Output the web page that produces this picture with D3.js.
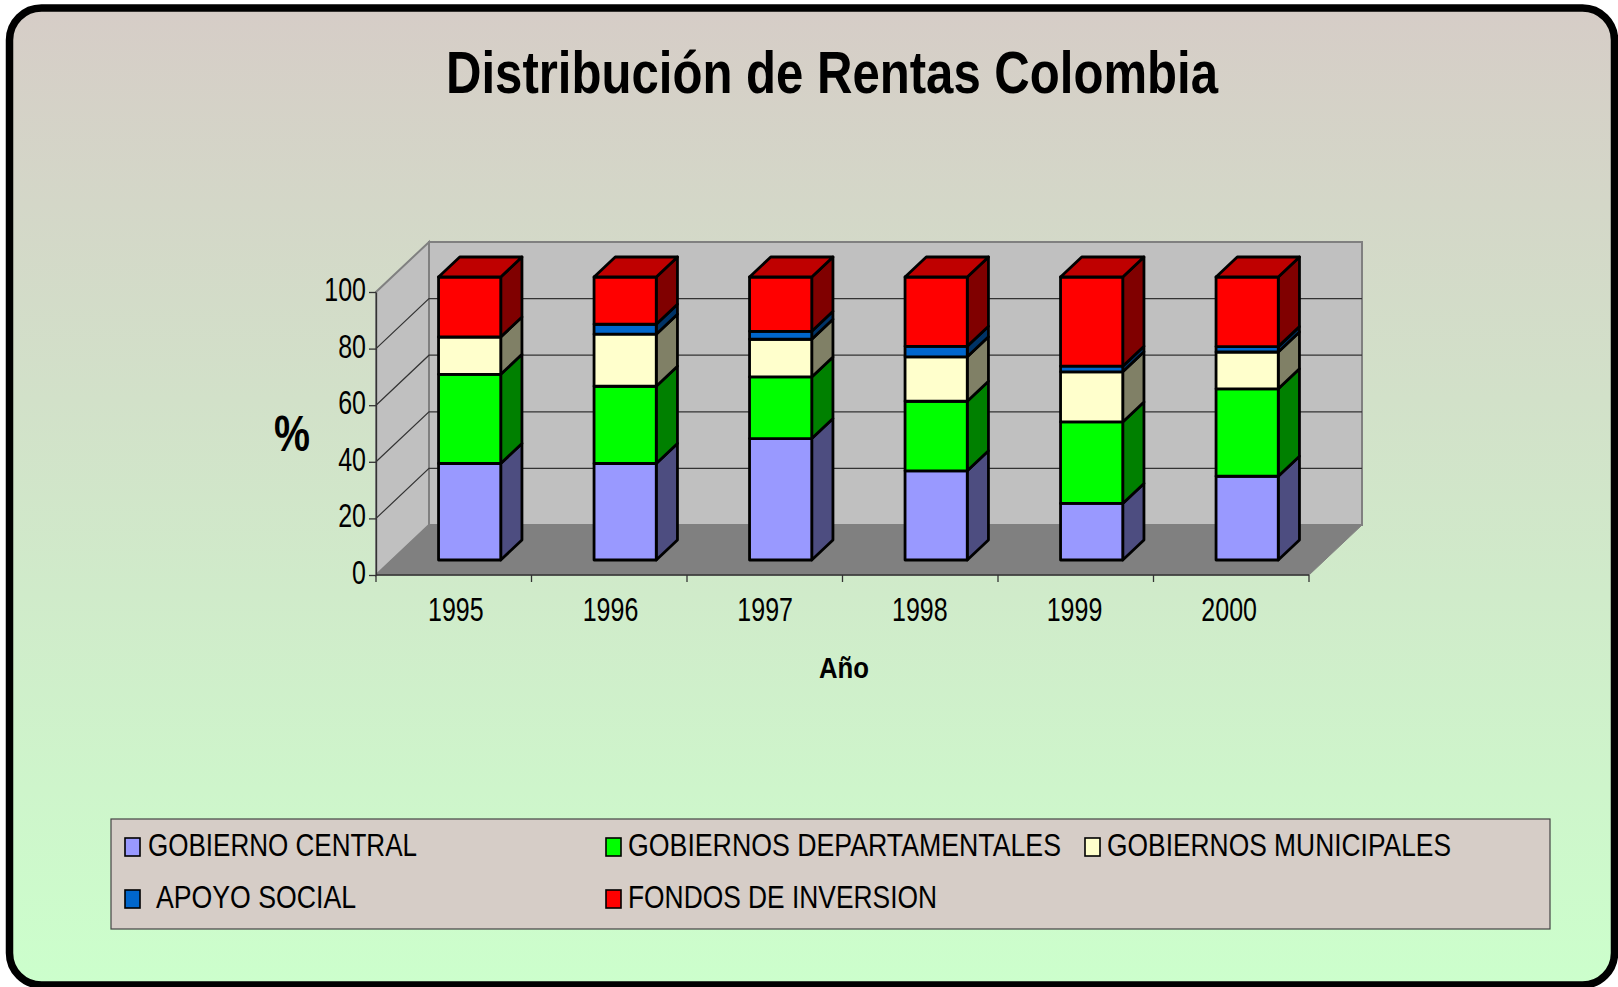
<!DOCTYPE html>
<html>
<head>
	<meta charset="utf-8">
	<title>Distribución de Rentas Colombia</title>
	<script src="https://d3js.org/d3.v7.min.js"></script>
	<style>
		html, body { margin: 0; padding: 0; background: #fff; }
		svg { display: block; }
		text { font-family: "Liberation Sans Narrow", "Arial Narrow", "Liberation Sans", sans-serif; fill: #000; }
	</style>
</head>
<body>
	<svg width="1618" height="987"></svg>
	<script>
		var years = ['1995', '1996', '1997', '1998', '1999', '2000'];
		var yTicks = [0, 20, 40, 60, 80, 100];
		var seriesNames = ['GOBIERNO CENTRAL', 'GOBIERNOS DEPARTAMENTALES', 'GOBIERNOS MUNICIPALES', ' APOYO SOCIAL', 'FONDOS DE INVERSION'];

		// percent per year
		var central = [34.1, 34.1, 42.9, 31.5, 20.0, 29.6];
		var departamentales = [31.5, 27.3, 21.8, 24.6, 28.8, 30.9];
		var municipales = [13.2, 18.4, 13.3, 15.7, 17.7, 13.0];
		var apoyo = [0, 3.5, 2.8, 3.7, 2.0, 1.9];
		var fondos = [21.2, 16.7, 19.2, 24.5, 31.5, 24.6];

		var frontColors = ['#9999ff', '#00ff00', '#ffffcc', '#0066cc', '#ff0000'];
		var sideColors = ['#4d4d80', '#008000', '#808066', '#003366', '#800000'];
		var topColor = '#bf0000';

		var svg = d3.select('svg');

		// background with the rounded black frame
		var grad = svg.append('defs').append('linearGradient')
			.attr('id', 'bg').attr('x1', 0).attr('y1', 0).attr('x2', 0).attr('y2', 1);
		grad.append('stop').attr('offset', '0%').attr('stop-color', '#d6cdc7');
		grad.append('stop').attr('offset', '100%').attr('stop-color', '#ccffcc');

		svg.append('rect')
			.attr('x', 9.5).attr('y', 8).attr('width', 1605).attr('height', 977)
			.attr('rx', 32).attr('ry', 32)
			.attr('fill', 'url(#bg)').attr('stroke', '#000').attr('stroke-width', 7.5);

		var left = 376, right = 1309, bottom = 575, top100 = 292;
		var depthX = 53, depthY = 50;

		var x = d3.scaleBand().domain(years).range([left, right]).paddingInner(0.6).paddingOuter(0.3);
		var xLabels = d3.scaleBand().domain(years).range([378.5, 1306.5]);
		var y = d3.scaleLinear().domain([0, 100]).range([bottom, top100]);

		// oblique projection: z = 0 is the front plane, z = 1 the back wall
		function pt(px, val, z) {
			return [px + z * depthX, y(val) - z * depthY];
		}
		function poly(points) {
			return d3.line()(points) + 'Z';
		}

		// walls and floor
		var walls = svg.append('g');
		walls.append('path')
			.attr('d', poly([pt(left, 0, 1), pt(right, 0, 1), pt(right, 100, 1), pt(left, 100, 1)]))
			.attr('fill', '#c0c0c0').attr('stroke', '#808080').attr('stroke-width', 2);
		walls.append('path')
			.attr('d', poly([pt(left, 0, 0), pt(left, 0, 1), pt(left, 100, 1), pt(left, 100, 0)]))
			.attr('fill', '#c0c0c0').attr('stroke', '#808080').attr('stroke-width', 2);
		walls.append('path')
			.attr('d', poly([pt(left, 0, 0), pt(right, 0, 0), pt(right, 0, 1), pt(left, 0, 1)]))
			.attr('fill', '#808080').attr('stroke', '#808080').attr('stroke-width', 1);

		// gridlines across the left wall and the back wall
		yTicks.slice(1, -1).forEach(function(t) {
			walls.append('path')
				.attr('d', d3.line()([pt(left, t, 0), pt(left, t, 1), pt(right, t, 1)]))
				.attr('fill', 'none').attr('stroke', '#333').attr('stroke-width', 1.2);
		});

		// font has no narrow cut here, so digits get squeezed to the reference width
		var digitWidth = 13.9;
		function squeeze(sel) {
			sel.attr('font-size', 33)
				.attr('lengthAdjust', 'spacingAndGlyphs')
				.attr('textLength', function() { return this.textContent.length * digitWidth; });
		}

		// axes
		var yAxis = svg.append('g')
			.attr('transform', 'translate(' + left + ',0)')
			.call(d3.axisLeft(y).tickValues(yTicks).tickSize(7).tickPadding(3).tickSizeOuter(0));
		yAxis.selectAll('text').call(squeeze).attr('dy', '0.26em');
		yAxis.selectAll('line, path').attr('stroke', '#333').attr('stroke-width', 1.3);

		var xAxis = svg.append('g')
			.attr('transform', 'translate(0,' + bottom + ')')
			.call(d3.axisBottom(xLabels).tickSize(0).tickPadding(23).tickSizeOuter(0));
		xAxis.selectAll('text').call(squeeze);
		xAxis.select('.domain').remove();
		xAxis.append('line')
			.attr('x1', left).attr('x2', right)
			.attr('stroke', '#333').attr('stroke-width', 1.3);
		xAxis.selectAll('.edge')
			.data(years.concat(['end']))
			.enter().append('line')
			.attr('class', 'edge')
			.attr('x1', function(d, i) { return left + i * x.step(); })
			.attr('x2', function(d, i) { return left + i * x.step(); })
			.attr('y1', 0).attr('y2', 7)
			.attr('stroke', '#333').attr('stroke-width', 1.3);

		// stacked 3d bars
		var rows = years.map(function(yr, i) {
			return { year: yr, a: central[i], b: departamentales[i], c: municipales[i], d: apoyo[i], e: fondos[i] };
		});
		var stacked = d3.stack().keys(['a', 'b', 'c', 'd', 'e'])(rows);
		var zFront = 0.3, zBack = 0.7;

		var bars = svg.append('g').attr('stroke', '#000').attr('stroke-width', 2.8).attr('stroke-linejoin', 'round');
		years.forEach(function(yr, i) {
			var x0 = x(yr), x1 = x0 + x.bandwidth();
			stacked.forEach(function(layer, k) {
				var lo = layer[i][0], hi = layer[i][1];
				if (hi <= lo) return;
				bars.append('path')
					.attr('d', poly([pt(x1, lo, zFront), pt(x1, lo, zBack), pt(x1, hi, zBack), pt(x1, hi, zFront)]))
					.attr('fill', sideColors[k]);
				bars.append('path')
					.attr('d', poly([pt(x0, lo, zFront), pt(x1, lo, zFront), pt(x1, hi, zFront), pt(x0, hi, zFront)]))
					.attr('fill', frontColors[k]);
				if (k == stacked.length - 1) {
					bars.append('path')
						.attr('d', poly([pt(x0, hi, zFront), pt(x1, hi, zFront), pt(x1, hi, zBack), pt(x0, hi, zBack)]))
						.attr('fill', topColor);
				}
			});
		});

		// titles
		svg.append('text')
			.attr('x', 832).attr('y', 93).attr('text-anchor', 'middle')
			.attr('font-size', 60).attr('font-weight', 'bold')
			.attr('textLength', 772).attr('lengthAdjust', 'spacingAndGlyphs')
			.text('Distribución de Rentas Colombia');
		svg.append('text')
			.attr('x', 292).attr('y', 451).attr('text-anchor', 'middle')
			.attr('font-size', 50).attr('font-weight', 'bold')
			.attr('textLength', 36).attr('lengthAdjust', 'spacingAndGlyphs')
			.text('%');
		svg.append('text')
			.attr('x', 844).attr('y', 678).attr('text-anchor', 'middle')
			.attr('font-size', 30).attr('font-weight', 'bold')
			.attr('textLength', 50).attr('lengthAdjust', 'spacingAndGlyphs')
			.text('Año');

		// legend
		var legendX = [125, 606, 1085];
		var legendTextX = [148, 628, 1107];
		var legendLen = [269, 433, 344, 200, 309];
		var legendRow = [0, 0, 0, 1, 1];
		var legendCol = [0, 1, 2, 0, 1];

		svg.append('rect')
			.attr('x', 111).attr('y', 819).attr('width', 1439).attr('height', 110)
			.attr('fill', '#d6cdc7').attr('stroke', '#444').attr('stroke-width', 1.2);

		var legend = svg.append('g').selectAll('g')
			.data(seriesNames)
			.enter().append('g')
			.attr('transform', function(d, i) { return 'translate(0,' + legendRow[i] * 52 + ')'; });
		legend.append('rect')
			.attr('x', function(d, i) { return legendX[legendCol[i]]; })
			.attr('y', 838).attr('width', 15).attr('height', 18)
			.attr('fill', function(d, i) { return frontColors[i]; })
			.attr('stroke', '#000').attr('stroke-width', 1.6);
		legend.append('text')
			.attr('x', function(d, i) { return legendTextX[legendCol[i]] + (i == 3 ? 8 : 0); })
			.attr('y', 856)
			.attr('font-size', 31)
			.attr('textLength', function(d, i) { return legendLen[i]; })
			.attr('lengthAdjust', 'spacingAndGlyphs')
			.text(function(d) { return d.trim(); });
	</script>
</body>
</html>
